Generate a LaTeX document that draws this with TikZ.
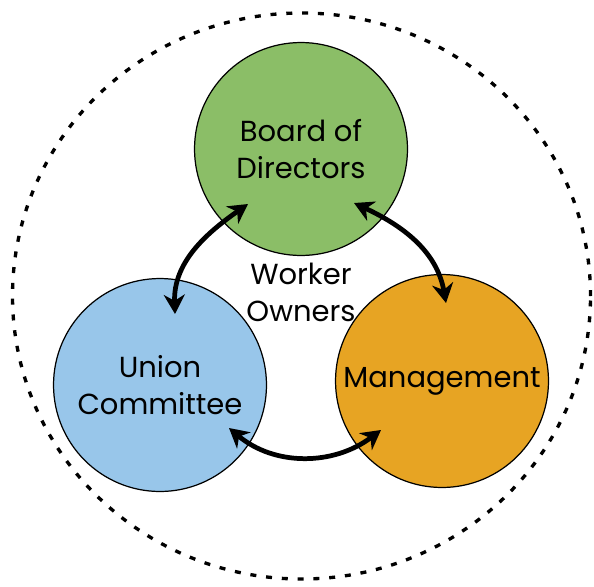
\documentclass[tikz,border=0pt]{standalone}
\usepackage{fontspec}
\setmainfont{Poppins}
\usetikzlibrary{arrows.meta}
\definecolor{boardgreen}{RGB}{139,190,103}
\definecolor{unionblue}{RGB}{152,198,234}
\definecolor{mgmtorange}{RGB}{231,164,35}

\begin{document}
\begin{tikzpicture}[x=0.02cm,y=0.02cm,
    group/.style={circle,draw,line width=0.7pt,minimum size=4.26cm,align=center,
      font=\fontsize{16.5}{21}\selectfont},
    link/.style={{Stealth[length=11pt,width=12pt,inset=3.5pt]}-{Stealth[length=11pt,width=12pt,inset=3.5pt]},
      line width=2.7pt}]
      \useasboundingbox (0,0) rectangle (594,586);
      \draw[line width=1.9pt,dash pattern=on 3.4pt off 5.6pt] (301.5,290) ellipse (289 and 283);
      \node[group,fill=boardgreen] (board) at (301,437) {Board of\\Directors};
      \node[group,fill=unionblue] (union) at (160,201) {Union\\Committee};
      \node[group,fill=mgmtorange] (mgmt) at (442,205) {Management};
      \node[align=center,font=\fontsize{16.5}{21}\selectfont] (owners) at (301,294) {Worker\\Owners};
      \coordinate (bu) at (248,382);
      \coordinate (ub) at (175,272);
      \coordinate (bm) at (354,383);
      \coordinate (mb) at (446,283);
      \coordinate (um) at (229,158);
      \coordinate (mu) at (381,156);
      \draw[link] (ub) to[out=92,in=215] (bu);
      \draw[link] (bm) to[out=-25,in=100] (mb);
      \draw[link] (um) to[out=-40,in=217] (mu);
    \end{tikzpicture}
\end{document}
